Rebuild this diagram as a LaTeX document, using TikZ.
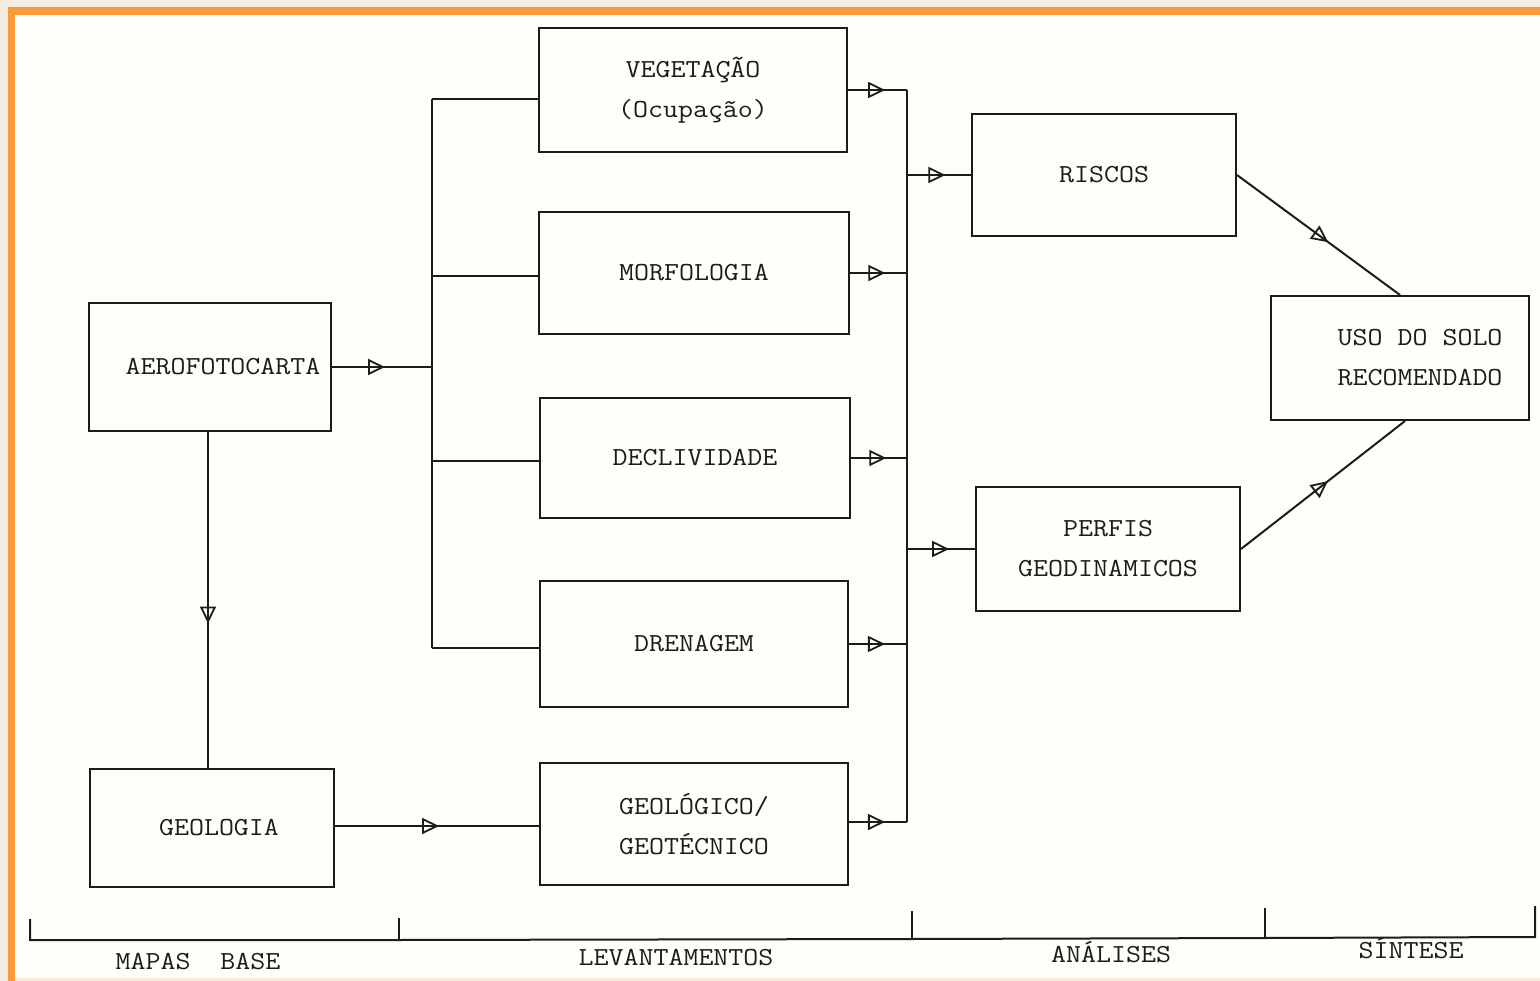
\documentclass[tikz,border=0pt]{standalone}
\usepackage{fontspec}
\setmonofont[FakeStretch=1.12]{Latin Modern Mono}
\usetikzlibrary{arrows.meta,decorations.markings}
\definecolor{cream}{HTML}{F5EDDF}
\definecolor{frameorange}{HTML}{FB9A3A}
\definecolor{paper}{HTML}{FFFEF9}
\definecolor{paleorange}{HTML}{FDEBD6}
\definecolor{ink}{HTML}{1C1C1C}
\tikzset{
  box/.style={draw=ink, line width=2pt, inner sep=0pt, align=center,
    font=\ttfamily\fontsize{26}{40}\selectfont, text=ink},
  conn/.style={draw=ink, line width=2pt},
  mid/.style={postaction={decorate}, decoration={markings,
    mark=at position #1 with {\arrow[ink, line width=1.8pt]{Triangle[open,length=17pt,width=16pt]}}}},
  lab/.style={font=\ttfamily\fontsize{26}{30}\selectfont, text=ink, inner sep=0pt,
    text height=15pt, text depth=0pt}
}
\begin{document}
\begin{tikzpicture}[x=1pt,y=-1pt]
\useasboundingbox (0,0) rectangle (1540,981);
\fill[cream] (0,0) rectangle (1540,981);
\fill[frameorange] (8,7) rectangle (1540,981);
\fill[paper] (15,15) rectangle (1540,978);
\fill[paleorange] (15,978) rectangle (1540,981);

% boxes
\node[box, minimum width=308, minimum height=124] (veg) at (693,90) {VEGETAÇÃO\\(Ocupação)};
\node[box, minimum width=310, minimum height=122] (morf) at (694,273) {MORFOLOGIA};
\node[box, minimum width=310, minimum height=120] (decl) at (695,458) {DECLIVIDADE};
\node[box, minimum width=308, minimum height=126] (dren) at (694,644) {DRENAGEM};
\node[box, minimum width=308, minimum height=122] (geot) at (694,824) {GEOLÓGICO/\\GEOTÉCNICO};
\node[box, minimum width=242, minimum height=128] (aero) at (210,367) {\hspace*{26pt}AEROFOTOCARTA};
\node[box, minimum width=244, minimum height=118] (geol) at (212,828) {\hspace*{14pt}GEOLOGIA};
\node[box, minimum width=264, minimum height=122] (risc) at (1104,175) {RISCOS};
\node[box, minimum width=264, minimum height=124] (perf) at (1108,549) {PERFIS\\GEODINAMICOS};
\node[box, minimum width=258, minimum height=124] (uso) at (1400,358) {\hspace*{40pt}USO DO SOLO\\\hspace*{40pt}RECOMENDADO};

% left bus
\coordinate (busT) at (432,99);
\coordinate (busM) at (432,276);
\coordinate (busD) at (432,461);
\coordinate (busB) at (432,648);
\draw[conn] (busT) -- (busB);
\draw[conn] (busT) -- (busT -| veg.west);
\draw[conn] (busM) -- (busM -| morf.west);
\draw[conn] (busD) -- (busD -| decl.west);
\draw[conn] (busB) -- (busB -| dren.west);

\draw[conn, mid=0.53] (aero.east) -- (aero.east -| busT);
\draw[conn, mid=0.57] ([xshift=-2pt]aero.south) -- ([xshift=-2pt]aero.south |- geol.north);
\draw[conn, mid=0.51] ([yshift=2pt]geol.east) -- ([yshift=2pt]geol.east -| geot.west);

% right collector
\coordinate (colT) at (907,90);
\coordinate (colB) at (907,822);
\draw[conn] (colT) -- (colB);
\draw[conn, mid=0.63] (colT -| veg.east) -- (colT);
\draw[conn, mid=0.62] (morf.east) -- (morf.east -| colT);
\draw[conn, mid=0.63] (decl.east) -- (decl.east -| colT);
\draw[conn, mid=0.62] (dren.east) -- (dren.east -| colT);
\draw[conn, mid=0.62] (colB -| geot.east) -- (colB);
\draw[conn, mid=0.6] (risc.west -| colT) -- (risc.west);
\draw[conn, mid=0.62] (perf.west -| colT) -- (perf.west);

\draw[conn, mid=0.56] (risc.east) -- (uso.north);
\draw[conn, mid=0.53] (perf.east) -- ([xshift=5pt]uso.south);

% phase axis
\coordinate (ax0) at (30,940);
\coordinate (ax1) at (399,940);
\coordinate (ax2) at (912,939);
\coordinate (ax3) at (1265,938);
\coordinate (ax4) at (1535,937);
\draw[conn] ([yshift=21pt]ax0) -- (ax0) -- (ax1) -- (ax2) -- (ax3) -- (ax4) -- ([yshift=31pt]ax4);
\draw[conn] (ax1) -- ([yshift=22pt]ax1);
\draw[conn] (ax2) -- ([yshift=28pt]ax2);
\draw[conn] (ax3) -- ([yshift=30pt]ax3);

\node[lab] (l1) at (198,962) {MAPAS\ \ BASE};
\node[lab] (l2) at (676,958) {LEVANTAMENTOS};
\node[lab] (l3) at (1111,955) {ANÁLISES};
\node[lab] (l4) at (1411,951) {SÍNTESE};
\end{tikzpicture}
\end{document}
